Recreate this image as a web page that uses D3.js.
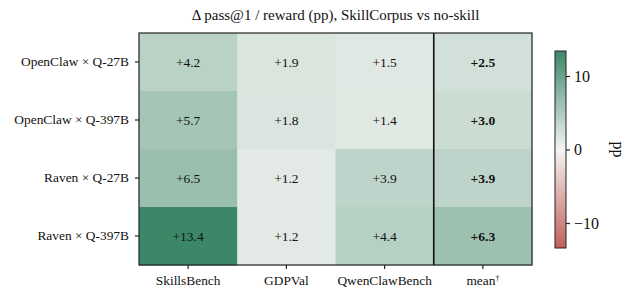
<!DOCTYPE html>
<html>
<head>
<meta charset="utf-8">
<script src="https://cdn.jsdelivr.net/npm/d3@7"></script>
<style>
  body { margin: 0; background: #fff; }
  svg text { font-family: "Liberation Serif", "Times New Roman", Tinos, serif; fill: #111; }
</style>
</head>
<body>
<svg id="chart"></svg>
<script>
const width = 638;
const height = 303;

// Data
const rows = ["OpenClaw × Q-27B", "OpenClaw × Q-397B", "Raven × Q-27B", "Raven × Q-397B"];
const cols = ["SkillsBench", "GDPVal", "QwenClawBench", "mean"];
const skillsBench = [4.2, 5.7, 6.5, 13.4];
const gdpVal = [1.9, 1.8, 1.2, 1.2];
const qwenClaw = [1.5, 1.4, 3.9, 4.4];
const meanVals = [2.5, 3.0, 3.9, 6.3];
const cbTicks = [-10, 0, 10];
const vmax = 13.4;

const series = [skillsBench, gdpVal, qwenClaw, meanVals];
const cells = [];
series.forEach((vals, ci) => vals.forEach((v, ri) => cells.push({ row: rows[ri], col: cols[ci], v })));

const plotLeft = 139, plotRight = 532, plotTop = 33, plotBottom = 265;
const serif = '"Liberation Serif", "Times New Roman", Tinos, serif';

const svg = d3.select("#chart").attr("width", width).attr("height", height);

const x = d3.scaleBand().domain(cols).range([plotLeft, plotRight]);
const y = d3.scaleBand().domain(rows).range([plotTop, plotBottom]);

const color = d3.scaleLinear()
  .domain([-vmax, 0, vmax])
  .range(["#c1605a", "#f4f4f2", "#3b8767"])
  .interpolate(d3.interpolateRgb);

// title
svg.append("text")
  .attr("x", (plotLeft + plotRight) / 2).attr("y", 20)
  .attr("text-anchor", "middle").style("font-size", "15px")
  .text("Δ pass@1 / reward (pp), SkillCorpus vs no-skill");

// cells
svg.append("g").selectAll("rect")
  .data(cells).enter().append("rect")
  .attr("x", d => x(d.col)).attr("y", d => y(d.row))
  .attr("width", x.bandwidth() + 0.5).attr("height", y.bandwidth() + 0.5)
  .attr("fill", d => color(d.v));

svg.append("g").selectAll("text")
  .data(cells).enter().append("text")
  .attr("x", d => x(d.col) + x.bandwidth() / 2)
  .attr("y", d => y(d.row) + y.bandwidth() / 2)
  .attr("dy", "0.35em").attr("text-anchor", "middle")
  .style("font-size", "13.5px")
  .style("font-weight", d => d.col === "mean" ? "bold" : "normal")
  .text(d => "+" + d.v.toFixed(1));

// separator before mean column
svg.append("line")
  .attr("x1", x("mean")).attr("x2", x("mean"))
  .attr("y1", plotTop).attr("y2", plotBottom)
  .attr("stroke", "#111").attr("stroke-width", 1.6);

// frame
svg.append("rect")
  .attr("x", plotLeft).attr("y", plotTop)
  .attr("width", plotRight - plotLeft).attr("height", plotBottom - plotTop)
  .attr("fill", "none").attr("stroke", "#222").attr("stroke-width", 1.2);

// axes
const xAxis = svg.append("g")
  .attr("transform", `translate(0,${plotBottom})`)
  .call(d3.axisBottom(x).tickSize(4).tickPadding(6).tickFormat(d => d === "mean" ? "" : d));
xAxis.attr("font-family", serif);
xAxis.select(".domain").remove();
xAxis.selectAll("line").attr("stroke", "#222").attr("stroke-width", 1.2);
xAxis.selectAll("text").style("font-size", "13.4px").style("font-family", serif).attr("fill", "#111");
const meanLabel = xAxis.selectAll(".tick").filter(d => d === "mean").select("text");
meanLabel.append("tspan").text("mean");
meanLabel.append("tspan").attr("dy", "-0.45em").style("font-size", "8px").text("†");

const yAxis = svg.append("g")
  .attr("transform", `translate(${plotLeft},0)`)
  .call(d3.axisLeft(y).tickSize(4).tickPadding(6));
yAxis.attr("font-family", serif);
yAxis.select(".domain").remove();
yAxis.selectAll("line").attr("stroke", "#222").attr("stroke-width", 1.2);
yAxis.selectAll("text").style("font-size", "13.4px").style("font-family", serif).attr("fill", "#111");

// colorbar
const cbX = 555, cbW = 11, cbTop = 51, cbBottom = 248;
const cy = d3.scaleLinear().domain([-vmax, vmax]).range([cbBottom, cbTop]);

const grad = svg.append("defs").append("linearGradient")
  .attr("id", "cbgrad").attr("x1", 0).attr("y1", 1).attr("x2", 0).attr("y2", 0);
d3.range(0, 1.0001, 0.05).forEach(t => {
  grad.append("stop").attr("offset", t).attr("stop-color", color(-vmax + 2 * vmax * t));
});
svg.append("rect")
  .attr("x", cbX).attr("y", cbTop).attr("width", cbW).attr("height", cbBottom - cbTop)
  .attr("fill", "url(#cbgrad)").attr("stroke", "#222").attr("stroke-width", 1);

const cbAxis = svg.append("g")
  .attr("transform", `translate(${cbX + cbW},0)`)
  .call(d3.axisRight(cy).tickValues(cbTicks).tickSize(4).tickPadding(4)
    .tickFormat(d => d < 0 ? "\u2212" + Math.abs(d) : d));
cbAxis.attr("font-family", serif);
cbAxis.select(".domain").remove();
cbAxis.selectAll("line").attr("stroke", "#222").attr("stroke-width", 1.2);
cbAxis.selectAll("text").style("font-size", "16px").style("font-family", serif).attr("fill", "#111");

svg.append("text")
  .attr("transform", `translate(613,${(cbTop + cbBottom) / 2}) rotate(90)`)
  .attr("text-anchor", "middle").style("font-size", "16px")
  .text("pp");
</script>
</body>
</html>
